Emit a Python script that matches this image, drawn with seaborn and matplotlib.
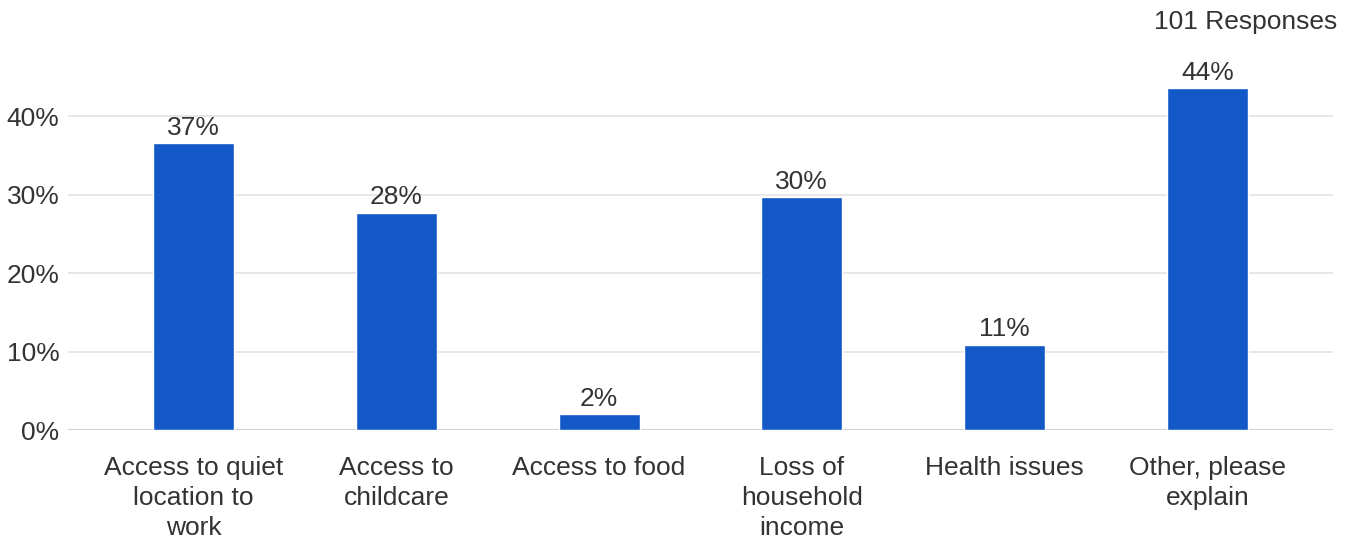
import pandas as pd
import matplotlib
matplotlib.use('Agg')
import matplotlib.pyplot as plt
import seaborn as sns
from matplotlib.ticker import PercentFormatter

# Dados
categorias = ['Access to quiet\nlocation to\nwork', 'Access to\nchildcare', 'Access to food',
              'Loss of\nhousehold\nincome', 'Health issues', 'Other, please\nexplain']
respostas = [37, 28, 2, 30, 11, 44]
total_respostas = 101
yticks = [0, 0.1, 0.2, 0.3, 0.4]

df = pd.DataFrame({'categoria': categorias,
                   'pct': [r / total_respostas for r in respostas]})

sns.set_theme(style='white')
plt.rcParams['font.family'] = ['Liberation Sans', 'DejaVu Sans']
texto = '#333333'
fs = 19

fig = plt.figure(figsize=(13.58, 5.4), dpi=100)
ax = fig.add_axes([0.050, 0.2037, 0.9316, 0.668])

sns.barplot(data=df, x='categoria', y='pct', color='#1259C7', width=0.4,
            saturation=1, ax=ax, zorder=3)

for i, v in enumerate(df['pct']):
    ax.text(i, v + 0.004, f'{v:.0%}', ha='center', va='bottom', fontsize=fs, color=texto)

ax.set_xlim(-0.62, 5.62)
ax.set_ylim(0, 0.46)
ax.set_yticks(yticks)
ax.yaxis.set_major_formatter(PercentFormatter(1.0, decimals=0))
ax.grid(axis='y', color='#e3e3e3', linewidth=1.2, zorder=0)
ax.axhline(0, color='#d0d0d0', linewidth=1.5, zorder=2)
for s in ax.spines.values():
    s.set_visible(False)
ax.set_xlabel('')
ax.set_ylabel('')
ax.tick_params(axis='y', labelsize=fs, labelcolor=texto, length=0, pad=6)
ax.tick_params(axis='x', labelsize=fs, labelcolor=texto, length=0, pad=19)
for lbl in ax.get_xticklabels():
    lbl.set_linespacing(1.3)

fig.text(0.985, 0.96, f'{total_respostas} Responses', ha='right', va='center',
         fontsize=fs, color=texto)

fig.savefig('out.png', dpi=100)
